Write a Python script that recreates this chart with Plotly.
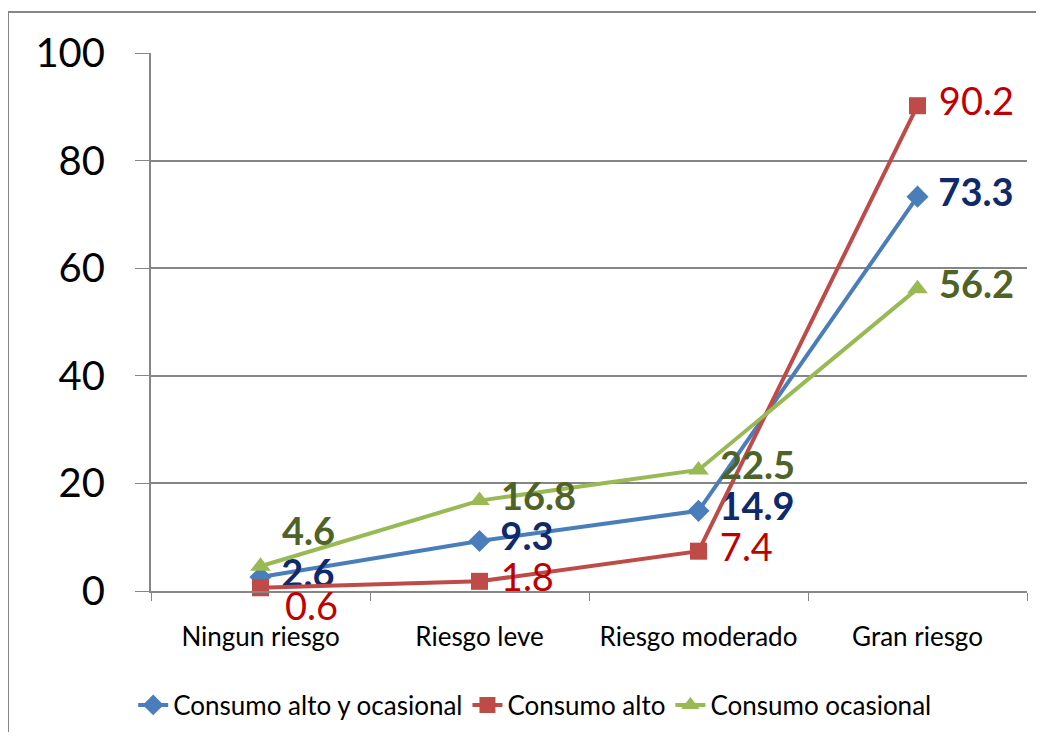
import plotly.graph_objects as go

categories = ["Ningun riesgo", "Riesgo leve", "Riesgo moderado", "Gran riesgo"]
alto_ocasional = [2.6, 9.3, 14.9, 73.3]
alto = [0.6, 1.8, 7.4, 90.2]
ocasional = [4.6, 16.8, 22.5, 56.2]
y_ticks = [0, 20, 40, 60, 80, 100]

FONT = "Lato"
W, H = 1028, 724          # page body adds an 8px margin
L, R, T, B = 143, 9, 45, 141

fig = go.Figure()

fig.add_trace(go.Scatter(
    x=categories, y=alto_ocasional, name="Consumo alto y ocasional",
    mode="lines+markers+text", text=[" " + str(v) for v in alto_ocasional],
    textposition="middle right", cliponaxis=False,
    textfont=dict(family=FONT, size=38, color="#0F2A6B", weight="bold"),
    line=dict(color="#4A7EBB", width=4),
    marker=dict(symbol="diamond", size=17, color="#4A7EBB"),
))
fig.add_trace(go.Scatter(
    x=categories, y=alto, name="Consumo alto",
    mode="lines+markers+text", text=["" if i == 0 else " " + str(v) for i, v in enumerate(alto)],
    textposition="middle right", cliponaxis=False,
    textfont=dict(family=FONT, size=38, color="#C00000"),
    line=dict(color="#BE4B48", width=4),
    marker=dict(symbol="square", size=17, color="#BE4B48"),
))
fig.add_trace(go.Scatter(
    x=categories, y=ocasional, name="Consumo ocasional",
    mode="lines+markers+text", text=[" " + str(v) for v in ocasional],
    textposition=["top right", "middle right", "middle right", "middle right"],
    cliponaxis=False,
    textfont=dict(family=FONT, size=38, color="#4F6228", weight="bold"),
    line=dict(color="#98B954", width=4),
    marker=dict(symbol="triangle-up", size=18, color="#98B954"),
))

# the first "Consumo alto" label sits a bit below its point
fig.add_annotation(x=categories[0], y=alto[0], text=str(alto[0]), showarrow=False,
                   xanchor="left", yanchor="middle", xshift=22, yshift=-17,
                   font=dict(family=FONT, size=38, color="#C00000"))

# outer chart border
pw, ph = W - L - R, H - T - B
fig.add_shape(type="rect", xref="paper", yref="paper",
              x0=(0 - L) / pw, x1=(W + 20 - L) / pw,
              y0=-(B + 20) / ph, y1=(H - B - 4) / ph,
              line=dict(color="#868686", width=2), layer="below")

fig.update_layout(
    width=W, height=H,
    margin=dict(l=L, r=R, t=T, b=B, autoexpand=False),
    paper_bgcolor="white", plot_bgcolor="white",
    font=dict(family=FONT, color="black"),
    showlegend=True,
    legend=dict(orientation="h", x=0.438, xanchor="center", y=-0.212, yanchor="middle",
                font=dict(family=FONT, size=26)),
)
fig.update_xaxes(
    type="category", showline=True, linecolor="#868686", linewidth=2,
    ticks="outside", tickson="boundaries", ticklen=8, tickcolor="#868686",
    tickfont=dict(family=FONT, size=26), showgrid=False, automargin=False,
    ticklabelstandoff=22, range=[-0.5, 3.5],
)
fig.update_yaxes(
    range=[0, 100], tickvals=y_ticks, showline=True, linecolor="#868686", linewidth=2,
    ticks="outside", ticklen=14, tickcolor="#868686", automargin=False,
    showgrid=True, gridcolor="#868686", gridwidth=1.5, zeroline=False,
    tickfont=dict(family=FONT, size=40), ticklabelstandoff=22,
)

fig.write_html("out.html")
